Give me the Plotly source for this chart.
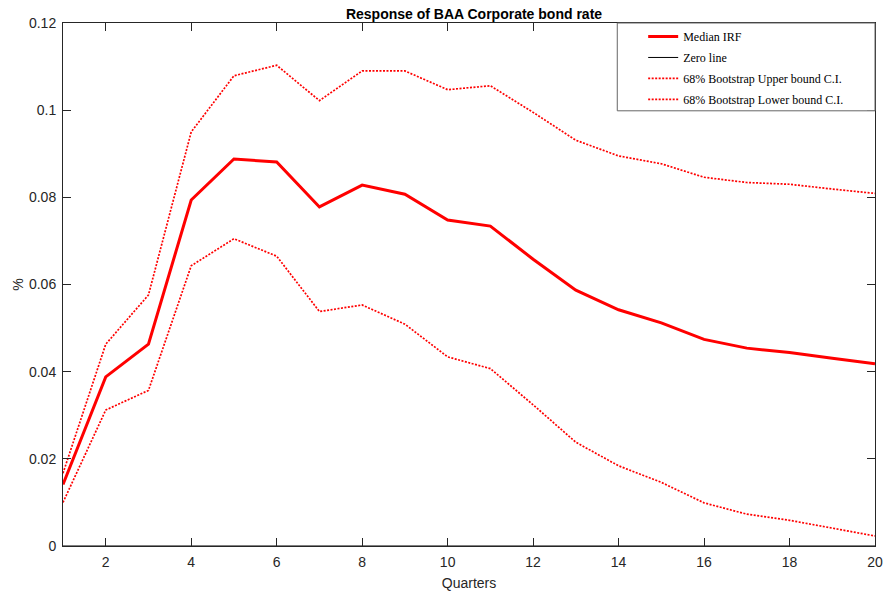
import plotly.graph_objects as go

quarters = list(range(1, 21))
median_irf = [0.0141, 0.0388, 0.0463, 0.0794, 0.0888, 0.0881, 0.0778, 0.0828, 0.0807, 0.0748,
              0.0734, 0.0658, 0.0587, 0.0542, 0.0512, 0.0474, 0.0454, 0.0444, 0.0431, 0.0418]
upper_ci = [0.0167, 0.0463, 0.0576, 0.0950, 0.1079, 0.1103, 0.1022, 0.1090, 0.1090, 0.1047,
            0.1056, 0.0995, 0.0931, 0.0895, 0.0877, 0.0846, 0.0834, 0.0830, 0.0819, 0.0809]
lower_ci = [0.0100, 0.0312, 0.0357, 0.0643, 0.0705, 0.0665, 0.0538, 0.0553, 0.0509, 0.0434,
            0.0407, 0.0324, 0.0238, 0.0184, 0.0146, 0.0099, 0.0073, 0.0059, 0.0041, 0.0023]
zero_line = [0.0] * 20

x_ticks = list(range(2, 21, 2))
y_ticks = [0, 0.02, 0.04, 0.06, 0.08, 0.1, 0.12]
y_ticktext = ["0", "0.02", "0.04", "0.06", "0.08", "0.1", "0.12"]

dotted = dict(color="#ff0000", width=1.7, dash="2px,1.5px")

fig = go.Figure()
fig.add_trace(go.Scatter(x=quarters, y=median_irf, mode="lines", name="Median IRF", legendgroup="a",
                         line=dict(color="#ff0000", width=3)))
fig.add_trace(go.Scatter(x=quarters, y=zero_line, mode="lines", name="Zero line", legendgroup="b",
                         line=dict(color="#000000", width=1)))
fig.add_trace(go.Scatter(x=quarters, y=upper_ci, mode="lines", name="68% Bootstrap Upper bound C.I.",
                         legendgroup="c", line=dotted))
fig.add_trace(go.Scatter(x=quarters, y=lower_ci, mode="lines", name="68% Bootstrap Lower bound C.I.",
                         legendgroup="d", line=dotted))

axis_font = dict(family="Liberation Sans, Arial, sans-serif", size=14, color="#262626")

fig.update_layout(
    width=893, height=599,
    margin=dict(l=63, r=10, t=23, b=44),
    paper_bgcolor="white", plot_bgcolor="white",
    title=dict(text="<b>Response of BAA Corporate bond rate</b>", x=0.5308, xanchor="center",
               y=0.977, yanchor="middle", yref="container",
               font=dict(family="Liberation Sans, Arial, sans-serif", size=14, color="#000000")),
    showlegend=True,
    legend=dict(x=0.7145, y=1.002, xanchor="left", yanchor="top",
                bgcolor="rgba(0,0,0,0)", borderwidth=0,
                font=dict(family="Liberation Serif, Times New Roman, serif", size=12, color="#000000"),
                itemwidth=30, tracegroupgap=2),
    shapes=[dict(type="rect", xref="paper", yref="paper", x0=0.6826, x1=1.0, y0=0.8321, y1=1.0,
                 line=dict(color="#666666", width=1), fillcolor="white", layer="above")],
)
fig.update_xaxes(range=[1, 20], tickvals=x_ticks, ticks="inside", ticklen=8, tickcolor="#262626",
                 showline=True, linecolor="#262626", linewidth=1, mirror="ticks",
                 showgrid=False, zeroline=False, tickfont=axis_font, ticklabelstandoff=3,
                 title=dict(text="Quarters", font=axis_font, standoff=9))
fig.update_yaxes(range=[0, 0.12], tickvals=y_ticks, ticktext=y_ticktext, ticks="inside", ticklen=8,
                 tickcolor="#262626", showline=True, linecolor="#262626", linewidth=1, mirror="ticks",
                 showgrid=False, zeroline=False, tickfont=axis_font, ticklabelstandoff=3,
                 title=dict(text="%", font=axis_font, standoff=2))

fig.write_html("out.html", config={"displayModeBar": False},
               post_script="document.body.style.margin='0';")
